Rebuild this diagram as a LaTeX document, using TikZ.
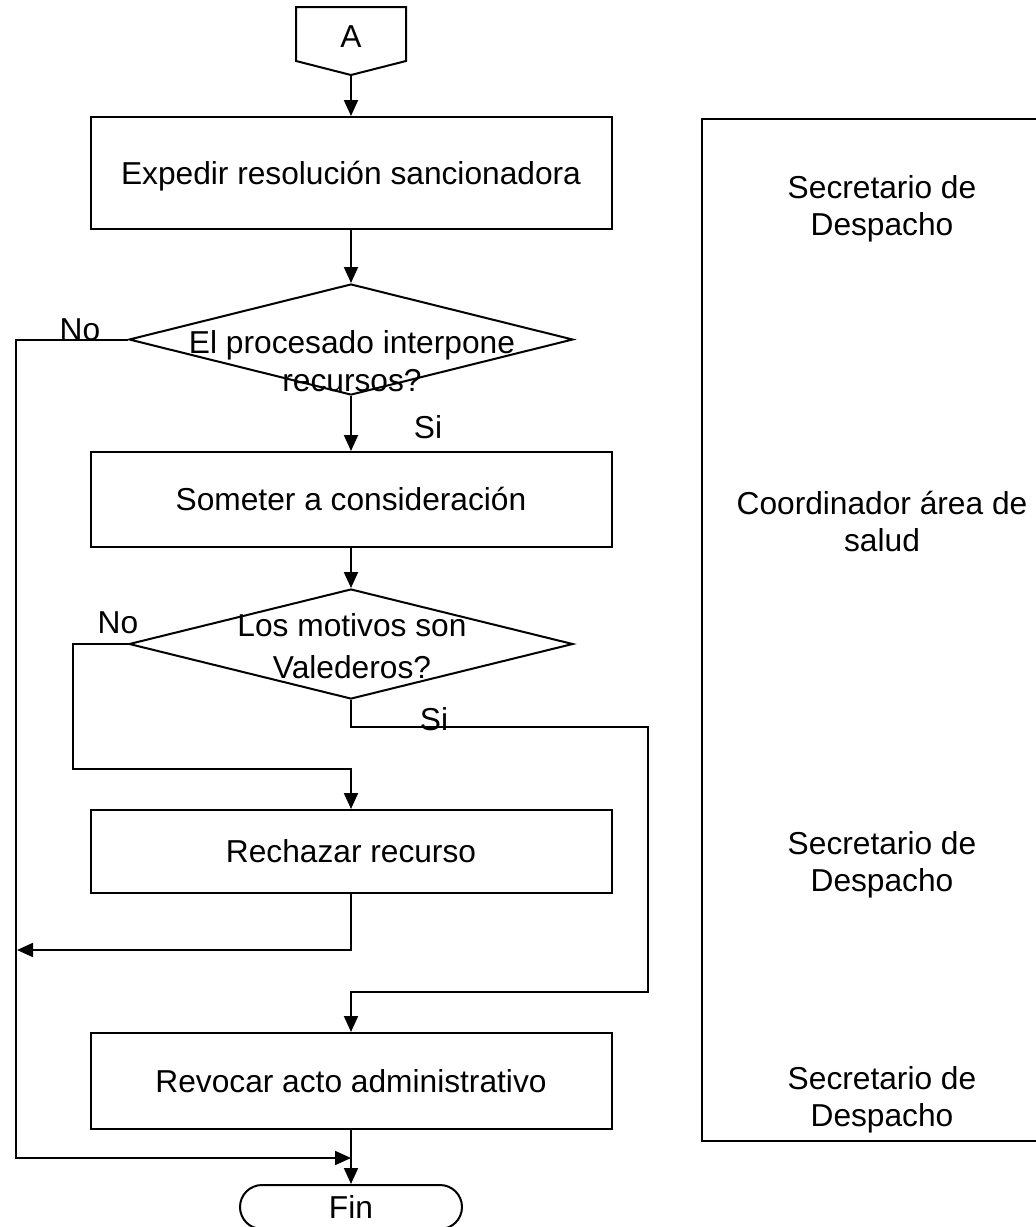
\documentclass[tikz,border=0pt]{standalone}
\usepackage{fontspec}
\setmainfont{Liberation Sans}
\usetikzlibrary{arrows.meta,shapes.geometric,shapes.misc,calc}
\begin{document}
\begin{tikzpicture}[x=1pt,y=-1pt,line width=2pt,
  font=\fontsize{31.7}{37}\selectfont,
  box/.style={draw,rectangle,minimum width=521pt,inner sep=0pt,text height=22.7pt,text depth=0pt},
  dec/.style={draw,diamond,minimum width=444pt,inner sep=0pt},
  term/.style={draw,rounded rectangle,minimum width=222pt,minimum height=44pt,inner sep=0pt,text height=22.7pt,text depth=0pt},
  lbl/.style={anchor=base,inner sep=0pt},
  role/.style={anchor=north,align=center,inner sep=0pt},
  arr/.style={-{Triangle[length=16pt,width=14pt]}}]
\clip (0,0) rectangle (1036,1227);
% off-page connector
\node[minimum width=110pt,minimum height=58pt,inner sep=0pt,outer sep=0pt,text height=22.7pt,text depth=0pt] (A) at (351,36) {A};
\coordinate (Atip) at (351,75);
\draw (A.north west) -- (A.north east) -- ++(0,54) -- (Atip) -- ($(A.north west)+(0,54)$) -- cycle;
% main column
\node[box,minimum height=112pt] (b1) at (351,173) {Expedir resolución sancionadora};
\node[dec,minimum height=111pt] (d1) at (351,339.5) {};
\node[role] (t1) at (352,326.1) {\strut El procesado interpone\\[1pt]recursos?};
\node[box,minimum height=95pt] (b2) at (351,499.5) {Someter a consideración};
\node[dec,minimum height=110pt] (d2) at (351,644) {};
\node[role] (t2) at (352,609.1) {\strut Los motivos son\\[5pt]Valederos?};
\node[box,minimum height=83pt] (b3) at (351,851.5) {Rechazar recurso};
\node[box,minimum height=96pt] (b4) at (351,1081) {Revocar acto administrativo};
\node[term] (fin) at (351,1207) {Fin};
% branch labels
\node[lbl] (no1) at (80,340) {No};
\node[lbl] (si1) at (428,438) {Si};
\node[lbl] (no2) at (118,633) {No};
\node[lbl] (si2) at (434,730) {Si};
% free ends
\coordinate (j1) at (351,1158);
\coordinate (j2) at (17,950);
% connectors
\draw[arr] (Atip) -- (b1.north);
\draw[arr] (b1.south) -- (d1.north);
\draw[arr] (d1.west) -| (16,1158) -- (j1);
\draw[arr] (d1.south) -- (b2.north);
\draw[arr] (b2.south) -- (d2.north);
\draw[arr] (d2.west) -| (73,769) -| (b3.north);
\draw[arr] (d2.south) |- (648,727) -- (648,992) -| (b4.north);
\draw[arr] (b3.south) |- (j2);
\draw[arr] (b4.south) -- (fin.north);
% responsibility panel
\draw (1040,119) -- (702,119) -- (702,1141) -- (1040,1141);
\node[role] (r1) at (882,171.1) {\strut Secretario de\\Despacho};
\node[role] (r2) at (882,487.1) {\strut Coordinador área de\\salud};
\node[role] (r3) at (882,827.1) {\strut Secretario de\\Despacho};
\node[role] (r4) at (882,1062.1) {\strut Secretario de\\Despacho};
\end{tikzpicture}
\end{document}
